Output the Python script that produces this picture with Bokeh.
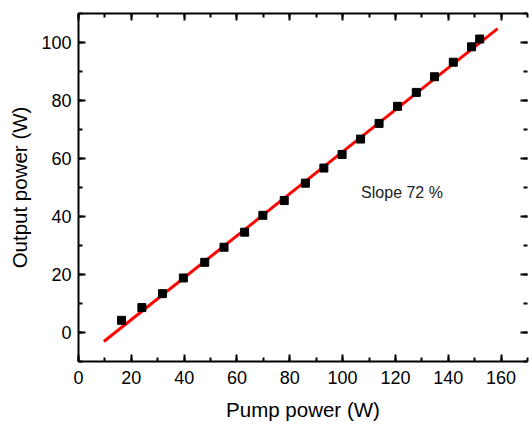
from bokeh.plotting import figure
from bokeh.models import Range1d, LinearAxis, SingleIntervalTicker, Label, CustomLabelingPolicy
from bokeh.embed import file_html
from bokeh.resources import INLINE

# Data
pump_power = [16.3, 24.0, 31.8, 39.7, 47.8, 55.1, 62.9, 69.8, 77.9, 85.9,
              92.9, 99.8, 106.8, 113.8, 120.8, 127.9, 134.8, 141.9, 148.8, 151.9]
output_power = [4.2, 8.6, 13.4, 18.8, 24.2, 29.4, 34.6, 40.4, 45.5, 51.5,
                56.7, 61.4, 66.7, 72.1, 78.0, 82.8, 88.2, 93.2, 98.5, 101.2]
fit_x = [9.6, 158.7]
fit_y = [-3.1, 104.8]
slope_label = "Slope 72 %"
x_label = "Pump power (W)"
y_label = "Output power (W)"

FONT = "Liberation Sans"

p = figure(width=532, height=426, output_backend="svg", toolbar_location=None,
           x_range=Range1d(0, 170), y_range=Range1d(-10, 110),
           min_border_left=78, min_border_right=1, min_border_top=13,
           min_border_bottom=65, x_axis_location=None, y_axis_location=None)
p.grid.visible = False
p.outline_line_color = None


def style(ax, labels=True):
    ax.axis_line_width = 2
    ax.axis_line_color = "black"
    ax.major_tick_line_width = 2
    ax.minor_tick_line_width = 2
    ax.major_tick_in = 7
    ax.major_tick_out = 0
    ax.minor_tick_in = 4
    ax.minor_tick_out = 0
    ax.major_label_text_font = FONT
    ax.major_label_text_color = "black"
    ax.axis_label_text_font = FONT
    ax.axis_label_text_font_style = "normal"
    ax.axis_label_text_color = "black"
    ax.axis_label_text_font_size = "20.5px"
    if labels:
        ax.major_label_text_font_size = "18px"
    else:
        ax.major_label_text_font_size = "1px"
        ax.major_label_policy = CustomLabelingPolicy(code="return new Set()")
        ax.major_label_standoff = 0
        ax.axis_label_standoff = 0


xb = LinearAxis(ticker=SingleIntervalTicker(interval=20, num_minor_ticks=2), axis_label=x_label)
style(xb)
xb.major_label_standoff = 9
xb.axis_label_standoff = 11
p.add_layout(xb, "below")

yl = LinearAxis(ticker=SingleIntervalTicker(interval=20, num_minor_ticks=2), axis_label=y_label)
style(yl)
yl.major_label_standoff = 7
yl.axis_label_standoff = 7
p.add_layout(yl, "left")

xt = LinearAxis(ticker=SingleIntervalTicker(interval=20, num_minor_ticks=2))
style(xt, labels=False)
p.add_layout(xt, "above")

yr = LinearAxis(ticker=SingleIntervalTicker(interval=20, num_minor_ticks=2))
style(yr, labels=False)
yr.axis_line_color = None
p.add_layout(yr, "right")

p.line(fit_x, fit_y, line_color="#ff0000", line_width=3)
p.scatter(pump_power, output_power, marker="square", size=8, color="black")

p.add_layout(Label(x=107, y=48.4, text=slope_label, text_font=FONT,
                   text_font_size="16px", text_color="#222222",
                   text_baseline="alphabetic", text_align="left"))

open("out.html", "w").write(file_html(p, INLINE))
